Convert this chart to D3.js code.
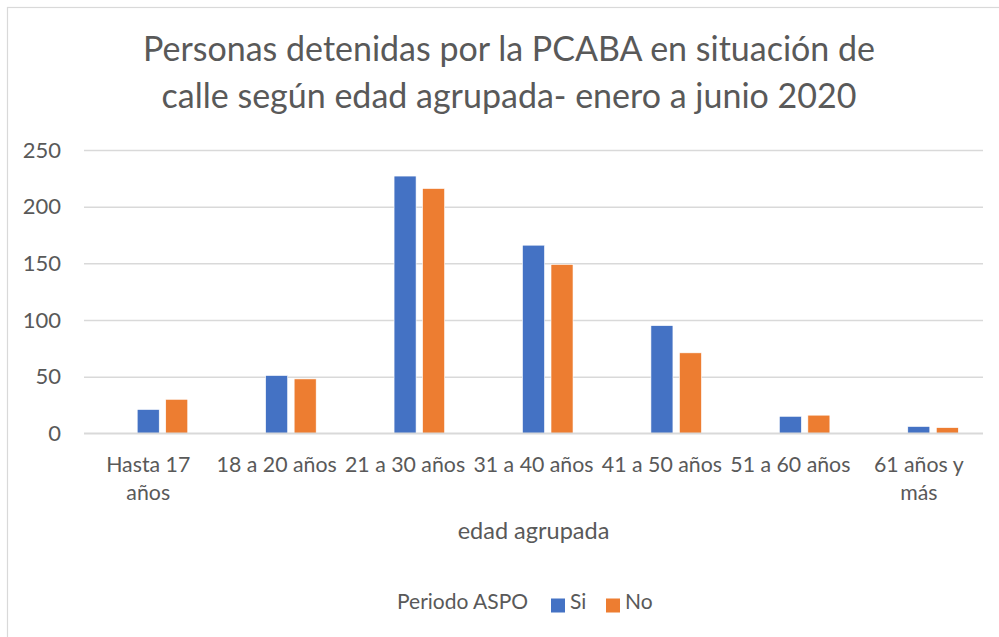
<!DOCTYPE html>
<html>
<head>
<meta charset="utf-8">
<script src="https://cdn.jsdelivr.net/npm/d3@7"></script>
<style>
  html, body { margin: 0; padding: 0; background: #fff; }
  svg { display: block; }
  text { font-family: Lato, "Open Sans", sans-serif; fill: #595959; }
</style>
</head>
<body>
<svg id="chart" width="999" height="637"></svg>
<script>
// ---- data ----
const categories = ["Hasta 17 años", "18 a 20 años", "21 a 30 años", "31 a 40 años", "41 a 50 años", "51 a 60 años", "61 años y más"];
const categoryLines = [["Hasta 17", "años"], ["18 a 20 años"], ["21 a 30 años"], ["31 a 40 años"], ["41 a 50 años"], ["51 a 60 años"], ["61 años y", "más"]];
const seriesNames = ["Si", "No"];
const siValues = [21, 51, 227, 166, 95, 15, 6];
const noValues = [30, 48, 216, 149, 71, 16, 5];
const yTicks = [0, 50, 100, 150, 200, 250];
const seriesColors = ["#4472C4", "#ED7D31"];
const titleLines = ["Personas detenidas por la PCABA en situación de", "calle según edad agrupada- enero a junio 2020"];
const xAxisTitle = "edad agrupada";
const legendTitle = "Periodo ASPO";

// ---- layout ----
const svg = d3.select("#chart");
const plot = { left: 84, right: 983, top: 150, bottom: 433.3 };

svg.append("rect").attr("x", 0).attr("y", 0).attr("width", 999).attr("height", 637).attr("fill", "#fff");
svg.append("rect").attr("x", 7.5).attr("y", 7.5).attr("width", 1100).attr("height", 700)
  .attr("fill", "none").attr("stroke", "#d9d9d9").attr("stroke-width", 1.2);

// title
const title = svg.append("text").attr("text-anchor", "middle").style("font-size", "34px").style("font-weight", 400);
titleLines.forEach((t, i) => {
  title.append("tspan").attr("x", 509).attr("y", 61 + i * 46.5).text(t);
});

const x0 = d3.scaleBand().domain(categories).range([plot.left, plot.right]).padding(0);
const x1 = d3.scaleBand().domain(["_blank"].concat(seriesNames)).range([0, x0.bandwidth()])
  .paddingInner(0.228).paddingOuter(0.866);
const y = d3.scaleLinear().domain([0, 250]).range([plot.bottom, plot.top]);

// y axis with gridlines
const yAxis = svg.append("g").attr("transform", `translate(${plot.left},0)`)
  .call(d3.axisLeft(y).tickValues(yTicks).tickSize(-(plot.right - plot.left)).tickPadding(23));
yAxis.select(".domain").remove();
yAxis.selectAll(".tick line").attr("stroke", "#d9d9d9").attr("stroke-width", 1.5);
yAxis.selectAll(".tick text").style("font-size", "22px").style("font-family", "Lato, sans-serif").attr("fill", "#595959");

// bars
const rows = categories.map((c, i) => ({ cat: c, vals: [siValues[i], noValues[i]] }));
const groups = svg.append("g").selectAll("g").data(rows).join("g")
  .attr("transform", d => `translate(${x0(d.cat)},0)`);
groups.selectAll("rect").data(d => d.vals.map((v, j) => ({ s: seriesNames[j], v, c: seriesColors[j] })))
  .join("rect")
  .attr("x", d => x1(d.s))
  .attr("width", x1.bandwidth())
  .attr("y", d => y(d.v))
  .attr("height", d => y(0) - y(d.v))
  .attr("fill", d => d.c)
  .attr("stroke", "#fff").attr("stroke-width", 0.6);

// x axis
const xAxis = svg.append("g").attr("transform", `translate(0,${plot.bottom})`)
  .call(d3.axisBottom(x0).tickSize(0).tickPadding(0));
xAxis.select(".domain").remove();
xAxis.selectAll(".tick text").each(function(d, i) {
  const t = d3.select(this);
  t.text(null).attr("y", 0).attr("dy", null).style("font-size", "21.3px").style("font-family", "Lato, sans-serif").attr("fill", "#595959");
  categoryLines[i].forEach((ln, k) => {
    t.append("tspan").attr("x", 0).attr("y", 38.5 + k * 28).text(ln);
  });
});
// baseline gridline drawn over bars
svg.append("line").attr("x1", plot.left).attr("x2", plot.right).attr("y1", plot.bottom).attr("y2", plot.bottom)
  .attr("stroke", "#d9d9d9").attr("stroke-width", 1.5);

// x axis title
svg.append("text").attr("x", (plot.left + plot.right) / 2).attr("y", 539).attr("text-anchor", "middle")
  .style("font-size", "23.5px").text(xAxisTitle);

// legend
const legend = svg.append("g");
legend.append("text").attr("x", 397).attr("y", 609).style("font-size", "21px").text(legendTitle);
const legendX = [551, 606];
seriesNames.forEach((s, j) => {
  legend.append("rect").attr("x", legendX[j]).attr("y", 598.5).attr("width", 14).attr("height", 14).attr("fill", seriesColors[j]);
  legend.append("text").attr("x", legendX[j] + 19).attr("y", 609).style("font-size", "21px").text(s);
});
</script>
</body>
</html>
